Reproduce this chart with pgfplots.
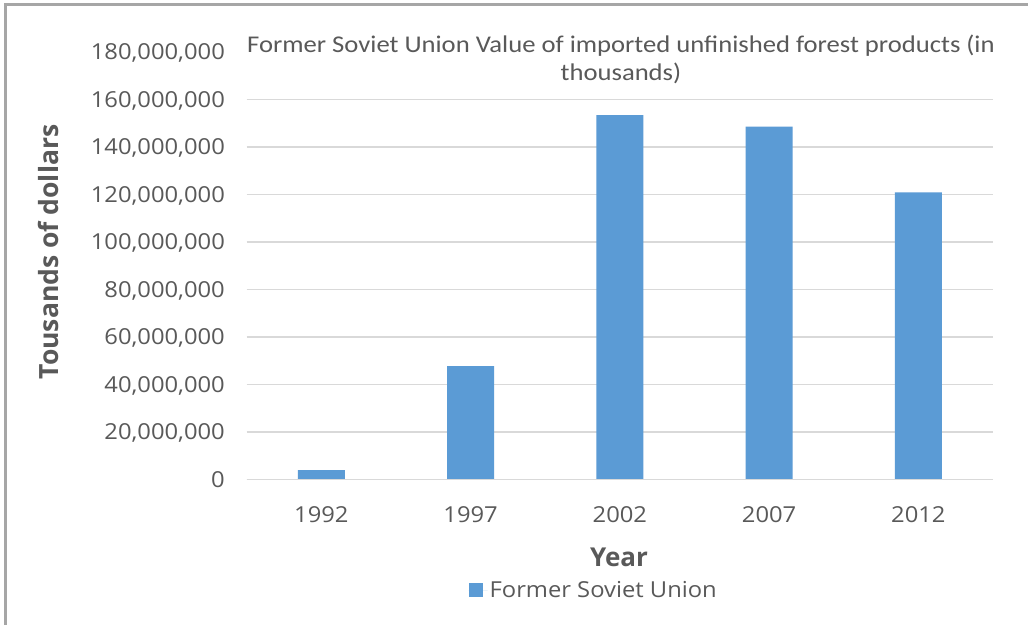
\documentclass[border=0pt]{standalone}
\usepackage{pgfplots}
\pgfplotsset{compat=1.18}
\usepackage{fontspec}
\setmainfont{Open Sans}
\newfontfamily\tickfont[FakeStretch=1.08]{Open Sans}
\newfontfamily\titlefont[FakeStretch=1.11]{Carlito}
\definecolor{barblue}{HTML}{5B9BD5}
\definecolor{txtgray}{HTML}{595959}
\definecolor{gridgray}{HTML}{D9D9D9}
\definecolor{framegray}{HTML}{A6A6A6}
\begin{document}
\begin{tikzpicture}[x=1pt,y=1pt]
\useasboundingbox (0,0) rectangle (1028,625);
\fill[white] (0,0) rectangle (1028,625);
\draw[framegray, line width=3pt] (5,0) -- (5,620) -- (1028,620);
\begin{axis}[
  at={(246.7pt,145.7pt)}, anchor=south west,
  scale only axis, width=746.3pt, height=427.5pt,
  xmin=-0.5, xmax=4.5, ymin=0, ymax=180000000,
  xtick=data, xticklabels={1992,1997,2002,2007,2012},
  ytick={0,20000000,40000000,60000000,80000000,100000000,120000000,140000000,160000000,180000000},
  scaled y ticks=false,
  /pgf/number format/fixed, /pgf/number format/precision=0,
  /pgf/number format/1000 sep={,}, /pgf/number format/assume math mode=true,
  yticklabel style={font=\tickfont\fontsize{22}{26}\selectfont, text=txtgray, anchor=base east, inner sep=0pt, xshift=-21.7pt, yshift=-7.8pt},
  xticklabel style={font=\tickfont\fontsize{22}{26}\selectfont, text=txtgray, anchor=base, inner sep=0pt, yshift=-42.7pt},
  major tick length=0pt,
  axis line style={draw=none},
  ymajorgrids, grid style={gridgray, line width=1.5pt},
  ybar, bar width=47pt,
  legend style={at={(0.465,-0.259)}, anchor=center, draw=none, fill=none, inner sep=0pt,
    font=\tickfont\fontsize{22}{26}\selectfont, text=txtgray},
  legend image code/.code={\fill[barblue] (0pt,-7pt) rectangle (14pt,7pt); \path (0pt,0pt) -- (19pt,0pt);},
  clip=false,
]
\addplot[fill=barblue, draw=none] coordinates {(0,3900000) (1,47700000) (2,153300000) (3,148500000) (4,120800000)};
\addlegendentry{Former Soviet Union}
\draw[gridgray, line width=1.5pt] (rel axis cs:0,0) -- (rel axis cs:1,0);
\node[fill=white, align=center, inner sep=2pt, text=txtgray, font=\titlefont\fontsize{24}{28}\selectfont] at (rel axis cs:0.5015,0.983) {Former Soviet Union Value of imported unfinished forest products (in\\thousands)};
\end{axis}
\node[rotate=90, text=txtgray, font=\bfseries\fontsize{26.5}{30}\selectfont] at (48,373) {Tousands of dollars};
\node[text=txtgray, font=\bfseries\fontsize{26}{30}\selectfont] at (619,68) {Year};
\end{tikzpicture}
\end{document}
